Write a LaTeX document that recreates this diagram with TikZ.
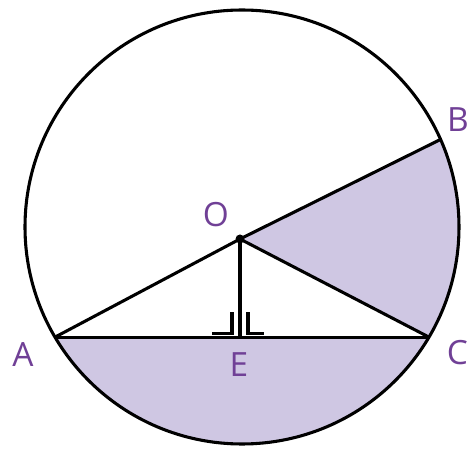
\documentclass[tikz,border=0pt]{standalone}
\usepackage{fontspec}
\setmainfont{Open Sans}

\definecolor{segFill}{RGB}{207,199,227}
\definecolor{ptLabel}{RGB}{112,64,150}

\begin{document}
\begin{tikzpicture}[line width=1.75pt,
  ptlabel/.style={text=ptLabel, font=\fontsize{19}{19}\selectfont, inner sep=0pt}]

  \useasboundingbox (0,0) rectangle (9.4,9.0);

  % ---- points ----
  \coordinate (M) at (4.84,4.46);
  \coordinate (O) at (4.80,4.22);
  \path (M) ++(210.5:4.34) coordinate (A);
  \path (M) ++(329.5:4.34) coordinate (C);
  \path (M) ++(23.8:4.34) coordinate (B);
  \coordinate (E) at (O |- A);

  % ---- shaded sector and segment ----
  \fill[segFill] (O) -- (B) arc[start angle=23.8, end angle=-30.5, radius=4.34] -- cycle;
  \fill[segFill] (A) arc[start angle=210.5, end angle=329.5, radius=4.34] -- cycle;

  % ---- circle and lines ----
  \draw (M) circle[radius=4.34];
  \draw (A) -- (C);
  \draw (A) -- (O) -- (B);
  \draw (O) -- (C);
  \draw[line width=2pt] (O) -- (E);
  \fill (O) circle[radius=0.09];

  % ---- right angle marks ----
  \draw ([shift={(-0.56,0.08)}]E) -- ([shift={(-0.16,0.08)}]E) -- ([shift={(-0.16,0.5)}]E);
  \draw ([shift={(0.48,0.08)}]E) -- ([shift={(0.16,0.08)}]E) -- ([shift={(0.16,0.5)}]E);

  % ---- labels ----
  \node[ptlabel] (lA) at (0.46,1.90) {A};
  \node[ptlabel] (lB) at (9.16,6.60) {B};
  \node[ptlabel] (lC) at (9.15,1.94) {C};
  \node[ptlabel] (lO) at (4.32,4.70) {O};
  \node[ptlabel] (lE) at (4.78,1.70) {E};

\end{tikzpicture}
\end{document}
